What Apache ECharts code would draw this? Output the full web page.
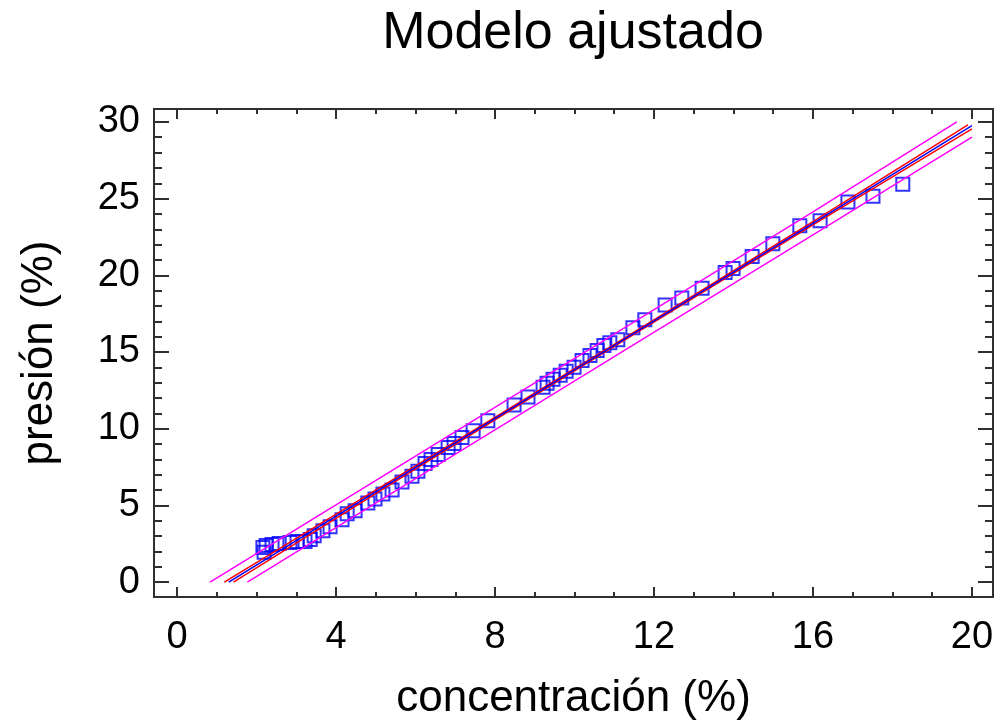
<!DOCTYPE html>
<html>
<head>
<meta charset="utf-8">
<script src="https://cdn.jsdelivr.net/npm/echarts@6/dist/echarts.min.js"></script>
<style>html,body{margin:0;padding:0;background:#fff;}#c{width:997px;height:726px;}</style>
</head>
<body>
<div id="c"></div>
<script>
// ---- data ----
const xTicks = [0, 4, 8, 12, 16, 20];
const yTicks = [0, 5, 10, 15, 20, 25, 30];
const xRange = [-0.58, 20.53];
const yRange = [-0.97, 30.84];
const concentracion = [2.16,2.19,2.24,2.39,2.57,2.84,3.02,3.22,3.35,3.45,3.67,3.85,4.15,4.28,4.48,4.80,4.98,5.18,5.41,5.66,5.91,6.06,6.24,6.39,6.57,6.82,6.97,7.17,7.45,7.82,8.48,8.83,9.21,9.31,9.46,9.64,9.79,9.99,10.19,10.39,10.57,10.74,10.89,11.09,11.47,11.77,12.28,12.70,13.21,13.79,13.99,14.47,14.99,15.67,16.18,16.88,17.51,18.26];
const presion = [2.26,1.94,2.39,2.45,2.52,2.58,2.65,2.65,2.77,3.03,3.35,3.61,4.06,4.45,4.65,5.16,5.42,5.74,6.00,6.52,6.90,7.23,7.74,8.00,8.32,8.77,9.03,9.42,9.87,10.52,11.55,12.06,12.71,12.97,13.23,13.48,13.74,14.00,14.45,14.77,15.10,15.42,15.61,15.80,16.58,17.10,18.06,18.52,19.16,20.19,20.45,21.23,22.06,23.23,23.55,24.77,25.16,25.94];
// fitted model and limits (x, y pairs)
const fitLine   = [[1.30, 0], [6, 7.48], [11, 15.43], [16, 23.39], [20, 29.75]];
const confUpper = [[1.19, 0], [6, 7.58], [11, 15.49], [16, 23.50], [19.90, 29.80]];
const confLower = [[1.42, 0], [6, 7.38], [11, 15.37], [16, 23.28], [20, 29.55]];
const predUpper = [[0.83, 0], [6, 8.22], [11, 16.16], [16, 24.14], [19.62, 30]];
const predLower = [[1.77, 0], [6, 6.74], [11, 14.70], [16, 22.64], [20, 29.00]];

const FONT = 'Liberation Sans';
const scatterData = concentracion.map((x, i) => [x, presion[i]]);
const tickCol = '#303030';

function axis(kind, pos, step, len, labels, name) {
  const ticks = kind === 'x' ? xTicks : yTicks;
  const range = kind === 'x' ? xRange : yRange;
  const a = {
    type: 'value', gridIndex: 0, position: pos, offset: 0,
    min: range[0], max: range[1],
    minInterval: step, maxInterval: step, splitNumber: Math.round((range[1] - range[0]) / step),
    axisLine: { show: false, onZero: false },
    axisTick: { show: true, inside: true, length: len, lineStyle: { color: tickCol, width: 2 } },
    minorTick: { show: false },
    splitLine: { show: false },
    axisLabel: {
      show: labels, color: '#000', fontFamily: FONT, fontSize: 38,
      margin: kind === 'x' ? 22 : 14,
      showMinLabel: true, showMaxLabel: true,
      formatter: v => (ticks.indexOf(Math.round(v * 1000) / 1000) >= 0 ? String(Math.round(v)) : '')
    }
  };
  if (name) {
    a.name = name; a.nameLocation = 'middle';
    a.nameGap = kind === 'x' ? 80 : 92;
    a.nameTextStyle = { color: '#000', fontFamily: FONT, fontSize: 44 };
  }
  return a;
}

const lineS = (data, color) => ({
  type: 'line', xAxisIndex: 0, yAxisIndex: 0, data: data, showSymbol: false, symbol: 'none',
  smooth: false, clip: true, lineStyle: { color: color, width: 1.5 }, silent: true, z: 3
});

const xStep = xTicks[1] - xTicks[0];
const yStep = yTicks[1] - yTicks[0];

const chart = echarts.init(document.getElementById('c'), null, { renderer: 'canvas' });
chart.setOption({
  animation: false,
  backgroundColor: '#ffffff',
  grid: [
    { left: 154, right: 4, top: 109, bottom: 124, show: true, borderColor: '#303030', borderWidth: 2, backgroundColor: 'transparent' }
  ],
  xAxis: [
    axis('x', 'bottom', xStep, 10, true, 'concentración (%)'),
    axis('x', 'bottom', 1, 5, false),
    axis('x', 'top', xStep, 10, false),
    axis('x', 'top', 1, 5, false)
  ],
  yAxis: [
    axis('y', 'left', yStep, 15, true, 'presión (%)'),
    axis('y', 'left', 1, 8, false),
    axis('y', 'right', yStep, 15, false),
    axis('y', 'right', 1, 8, false)
  ],
  graphic: [{
    type: 'text', x: 573, y: 34,
    style: { text: 'Modelo ajustado', font: '52px "Liberation Sans"', fill: '#000', textAlign: 'center', textVerticalAlign: 'middle' }
  }],
  series: [
    { type: 'scatter', xAxisIndex: 0, yAxisIndex: 0, data: scatterData, symbol: 'rect', symbolSize: 13,
      itemStyle: { color: 'rgba(0,0,0,0)', borderColor: '#0000ff', borderWidth: 2 }, z: 2 },
    lineS(predUpper, '#ff00ff'),
    lineS(predLower, '#ff00ff'),
    lineS(confUpper, '#ff0000'),
    lineS(confLower, '#ff0000'),
    lineS(fitLine, '#0000ff')
  ]
});
</script>
</body>
</html>
